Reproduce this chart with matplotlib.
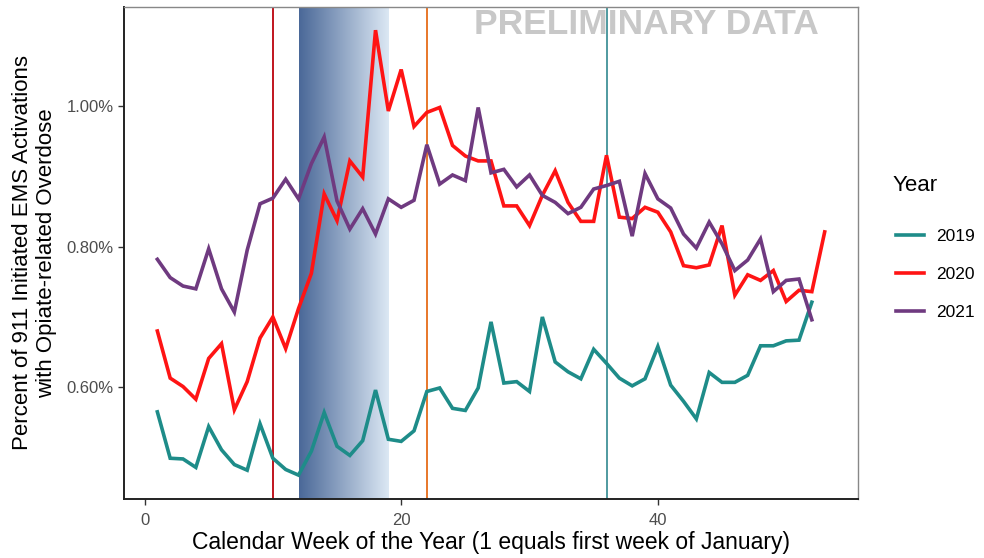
import numpy as np
import matplotlib
matplotlib.use("Agg")
import matplotlib.pyplot as plt
from matplotlib.colors import LinearSegmentedColormap
from matplotlib.ticker import FuncFormatter

plt.rcParams['font.family'] = ['Liberation Sans', 'DejaVu Sans']

# percent of 911 EMS activations with opiate-related overdose, by calendar week
v2019 = [0.565, 0.499, 0.498, 0.486, 0.544, 0.511, 0.490, 0.482, 0.548, 0.499,
         0.483, 0.475, 0.509, 0.564, 0.516, 0.503, 0.524, 0.596, 0.526, 0.523,
         0.538, 0.594, 0.599, 0.570, 0.567, 0.599, 0.693, 0.606, 0.608, 0.594,
         0.700, 0.636, 0.622, 0.612, 0.654, 0.634, 0.613, 0.602, 0.612, 0.658,
         0.603, 0.580, 0.555, 0.621, 0.607, 0.607, 0.617, 0.659, 0.659, 0.666,
         0.667, 0.721]
v2020 = [0.680, 0.613, 0.601, 0.583, 0.641, 0.662, 0.568, 0.608, 0.670, 0.700,
         0.655, 0.712, 0.762, 0.875, 0.837, 0.922, 0.899, 1.108, 0.993, 1.052,
         0.971, 0.991, 0.998, 0.944, 0.929, 0.922, 0.922, 0.858, 0.858, 0.830,
         0.873, 0.908, 0.863, 0.836, 0.836, 0.930, 0.842, 0.840, 0.856, 0.849,
         0.821, 0.773, 0.770, 0.774, 0.830, 0.731, 0.760, 0.752, 0.766, 0.722,
         0.738, 0.736, 0.821]
v2021 = [0.782, 0.756, 0.744, 0.740, 0.797, 0.740, 0.707, 0.795, 0.861, 0.869,
         0.896, 0.868, 0.918, 0.956, 0.865, 0.825, 0.854, 0.818, 0.868, 0.856,
         0.866, 0.945, 0.889, 0.902, 0.894, 0.998, 0.905, 0.910, 0.885, 0.902,
         0.873, 0.863, 0.847, 0.856, 0.882, 0.887, 0.893, 0.815, 0.904, 0.868,
         0.855, 0.818, 0.798, 0.835, 0.804, 0.766, 0.781, 0.811, 0.736, 0.752,
         0.754, 0.696]

years = ["2019", "2020", "2021"]
series = [v2019, v2020, v2021]
colors = ["#1E8C89", "#FF1414", "#6F3A80"]

# event markers (weeks) and shaded period
event_weeks = [10, 22, 36]
event_colors = ["#C0141E", "#E8772A", "#4F9AA0"]
shade_start, shade_end = 12, 19

fig = plt.figure(figsize=(9.84, 5.58), dpi=100)
ax = fig.add_axes([0.126, 0.1057, 0.746, 0.8818])

ymin, ymax = 0.441, 1.141
ax.set_xlim(-1.6, 55.6)
ax.set_ylim(ymin, ymax)

cmap = LinearSegmentedColormap.from_list("shade", ["#4A6898", "#DCE8F4"])
grad = np.linspace(0, 1, 256).reshape(1, -1)
ax.imshow(grad, extent=[shade_start, shade_end, ymin, ymax], aspect="auto",
          cmap=cmap, zorder=1)

for w, c in zip(event_weeks, event_colors):
    ax.axvline(w, color=c, lw=1.4, zorder=2)

for name, vals, c in zip(years, series, colors):
    weeks = np.arange(1, len(vals) + 1)
    ax.plot(weeks, vals, color=c, lw=2.6, label=name, zorder=3,
            solid_joinstyle="miter")

ax.text(39.1, 1.116, "PRELIMINARY DATA", color="#C8C8C8", fontsize=25.5,
        fontweight="bold", ha="center", va="center", zorder=4)

ax.set_xticks([0, 20, 40])
ax.set_yticks([0.6, 0.8, 1.0])
ax.yaxis.set_major_formatter(FuncFormatter(lambda v, p: f"{v:.2f}%"))
ax.tick_params(labelsize=12, labelcolor="#4D4D4D", color="#333333",
               length=4, width=1)
ax.tick_params(axis="x", pad=6)

for s in ["left", "bottom"]:
    ax.spines[s].set_color("#222222")
    ax.spines[s].set_linewidth(1.4)
for s in ["top", "right"]:
    ax.spines[s].set_color("#888888")
    ax.spines[s].set_linewidth(1.0)

ax.set_xlabel("Calendar Week of the Year (1 equals first week of January)",
              fontsize=16.5, labelpad=2)
ax.set_ylabel("Percent of 911 Initiated EMS Activations\nwith Opiate-related Overdose",
              fontsize=16, labelpad=7, linespacing=1.15)

fig.text(893 / 984, 1 - 186 / 558, "Year", fontsize=16, va="center", ha="left")
leg = ax.legend(loc="upper left", frameon=False, fontsize=12.5,
                handlelength=1.6, labelspacing=1.3, handletextpad=0.7,
                borderaxespad=0, borderpad=0)
leg.set_bbox_to_anchor((896 / 984, 1 - 229 / 558), transform=fig.transFigure)

fig.savefig("out.png", dpi=100)
